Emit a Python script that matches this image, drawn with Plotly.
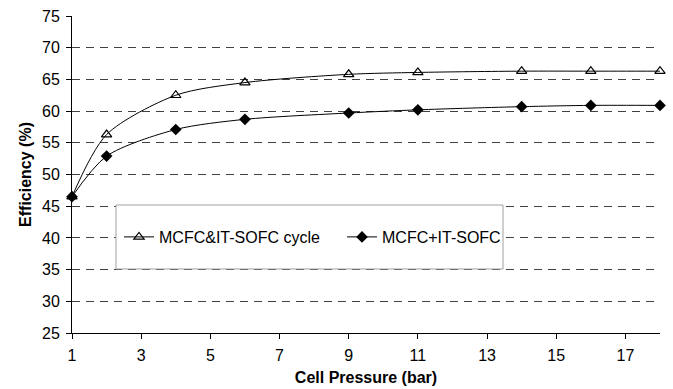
import plotly.graph_objects as go

pressure = [1, 2, 4, 6, 9, 11, 14, 16, 18]
cycle_eff = [46.5, 56.3, 62.5, 64.5, 65.8, 66.1, 66.3, 66.3, 66.3]
combined_eff = [46.5, 52.9, 57.1, 58.7, 59.7, 60.2, 60.7, 60.9, 60.9]
series_names = ["MCFC&IT-SOFC cycle", "MCFC+IT-SOFC"]
y_ticks = [25, 30, 35, 40, 45, 50, 55, 60, 65, 70, 75]
grid_vals = [30, 35, 40, 45, 50, 55, 60, 65, 70]
x_ticks = [1, 3, 5, 7, 9, 11, 13, 15, 17]

FONT = "Arial, Liberation Sans, sans-serif"

fig = go.Figure()
fig.add_trace(go.Scatter(
    x=pressure, y=cycle_eff, name=series_names[0], mode="lines+markers",
    line=dict(color="black", width=1, shape="spline", smoothing=0.8),
    marker=dict(symbol="triangle-up-open", size=9, color="black", line=dict(width=1.2, color="black")),
    cliponaxis=False,
))
fig.add_trace(go.Scatter(
    x=pressure, y=combined_eff, name=series_names[1], mode="lines+markers",
    line=dict(color="black", width=1, shape="spline", smoothing=0.8),
    marker=dict(symbol="diamond", size=9, color="black"),
    cliponaxis=False,
))
# dummy trace to carry the gridline axis
fig.add_trace(go.Scatter(x=[None], y=[None], yaxis="y2", showlegend=False, hoverinfo="skip"))

fig.add_shape(type="rect", xref="paper", yref="paper",
              x0=(116 - 72) / 588, x1=(503 - 72) / 588,
              y0=(333 - 269) / 317, y1=(333 - 205) / 317,
              line=dict(color="#a0a0a0", width=1), fillcolor="white", layer="above")

fig.update_layout(
    width=673, height=389,
    margin=dict(l=72, r=13, t=16, b=56),
    plot_bgcolor="white", paper_bgcolor="white",
    font=dict(family=FONT, size=16, color="black"),
    showlegend=True,
    legend=dict(orientation="h", x=(119 - 72) / 588, y=(333 - 237) / 317,
                xanchor="left", yanchor="middle",
                bgcolor="rgba(0,0,0,0)", borderwidth=0,
                font=dict(family=FONT, size=16, color="black"),
                entrywidth=178, entrywidthmode="pixels", itemwidth=30),
    xaxis=dict(range=[1, 18], tickvals=x_ticks, ticks="outside", ticklen=5,
               tickcolor="black", showline=True, linecolor="black", linewidth=1,
               showgrid=False, zeroline=False, tickfont=dict(size=16),
               ticklabelstandoff=3, automargin=False,
               title=dict(text="<b>Cell Pressure (bar)</b>", font=dict(size=16), standoff=8)),
    yaxis=dict(range=[25, 75], tickvals=y_ticks, ticks="outside", ticklen=5,
               tickcolor="black", showline=True, linecolor="black", linewidth=1,
               showgrid=False, zeroline=False, tickfont=dict(size=16),
               ticklabelstandoff=3, automargin=False,
               title=dict(text="<b>Efficiency (%)</b>", font=dict(size=16), standoff=6)),
    yaxis2=dict(range=[25, 75], overlaying="y", tickvals=grid_vals, showticklabels=False,
                ticks="", showgrid=True, gridcolor="#404040", gridwidth=1, griddash="8px,6px",
                zeroline=False, showline=False),
)

fig.write_html("out.html")
